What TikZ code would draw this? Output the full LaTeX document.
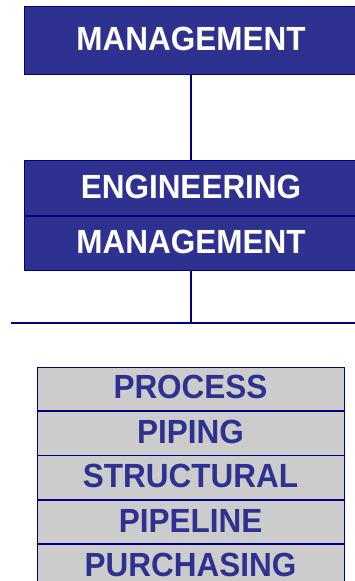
\documentclass[tikz,border=0pt]{standalone}
\usepackage{fontspec}
\setmainfont{Liberation Sans}[FakeStretch=0.94]
\usetikzlibrary{positioning}
\definecolor{boxblue}{RGB}{46,49,143}
\definecolor{linenavy}{RGB}{0,0,128}
\definecolor{boxgray}{RGB}{204,204,204}
\tikzstyle{hb}=[draw=linenavy, line width=1pt, fill=boxblue, text=white,
font=\fontsize{33.5}{33.5}\selectfont\bfseries, text height=24pt,
text depth=4pt, minimum width=334pt, minimum height=68pt, inner sep=0pt]
\tikzstyle{dept}=[draw=linenavy, line width=0.8pt, fill=boxgray, text=boxblue,
font=\fontsize{33.5}{33.5}\selectfont\bfseries, text height=24pt,
text depth=4pt, minimum width=307pt, minimum height=43.6pt, inner sep=0pt]
\tikzstyle{link}=[draw=linenavy, line width=1.4pt]

\begin{document}
\begin{tikzpicture}[x=1pt,y=1pt]
\useasboundingbox (0,0) rectangle (355,-581);
\clip (0,0) rectangle (355,-581);
\node[hb] (mgmt) at (191,-40) {MANAGEMENT};
\node[hb, minimum height=54.3pt] (eng) at (191,-188) {ENGINEERING};
\node[hb, minimum height=54.3pt, below=0pt of eng] (engmgmt) {MANAGEMENT};
\coordinate (busL) at (11,-323);
\coordinate (busR) at (360,-323);
\draw[link] (mgmt.south) -- (eng.north);
\draw[link] (engmgmt.south) -- (engmgmt.south |- busL);
\draw[link] (busL) -- (busR);

\node[dept] (process) at (190.5,-388.8) {PROCESS};
\node[dept, below=0pt of process] (piping) {PIPING};
\node[dept, below=0pt of piping] (structural) {STRUCTURAL};
\node[dept, below=0pt of structural] (pipeline) {PIPELINE};
\node[dept, below=0pt of pipeline] (purchasing) {PURCHASING};
\end{tikzpicture}
\end{document}
